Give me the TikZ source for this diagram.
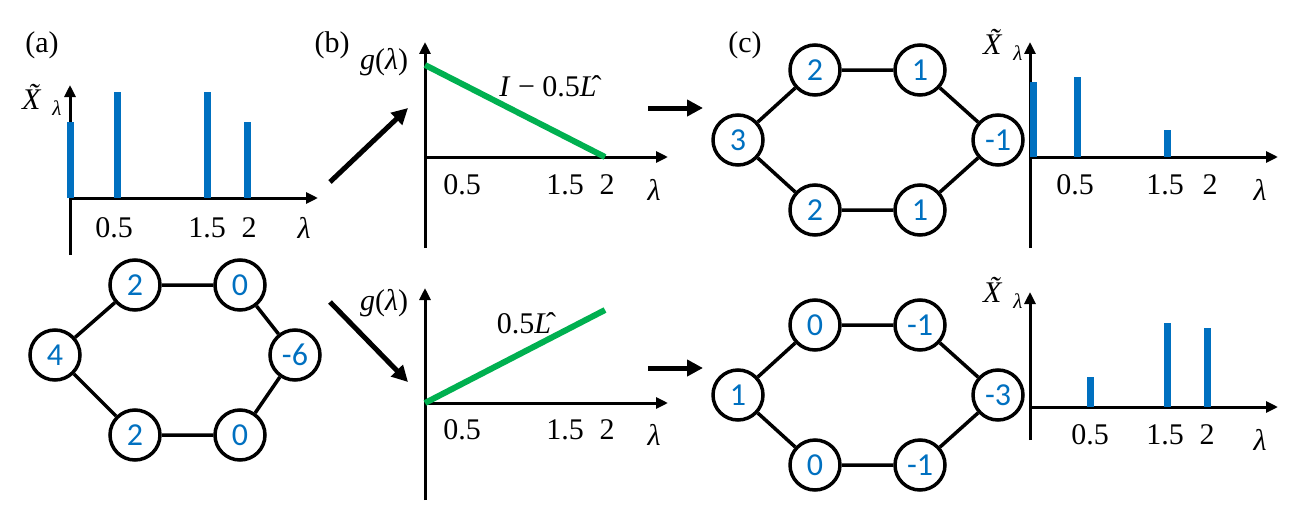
\documentclass[tikz,border=0pt]{standalone}
\usepackage{fontspec}
\setmainfont{Liberation Serif}
\newfontfamily\nodefont{Carlito}
\usetikzlibrary{arrows.meta}
\definecolor{bl}{RGB}{0,112,192}
\definecolor{gr}{RGB}{0,176,80}
\newcommand{\lam}{\textit{λ}}
\newcommand{\Xt}{\textit{\~{X}}\textsubscript{\textit{λ}}}
\begin{document}
\begin{tikzpicture}[x=1pt,y=-1pt,
  ax/.style={line width=3pt,-{Triangle[length=12pt,width=11pt]}},
  bar/.style={line width=7pt,bl},
  gl/.style={line width=6pt,gr},
  big/.style={line width=5pt,-{Triangle[length=16pt,width=16pt]}},
  v/.style={circle,draw,line width=3.5pt,minimum size=50pt,inner sep=0pt,font=\nodefont\fontsize{32}{32}\selectfont,text=bl},
  e/.style={line width=3.5pt},
  t/.style={font=\fontsize{30}{30}\selectfont}]
\useasboundingbox (0,0) rectangle (1300,519);
% (a)
\node[t] (la) at (42,45) {(a)};
\draw[ax] (70,255) -- (70,85);
\draw[ax] (70,198) -- (318,198);
\foreach \x/\y in {70/122,117/92,207/92,247/122} \draw[bar] (\x,198) -- (\x,\y);
\node[t] at (114,228) {0.5};\node[t] at (207,228) {1.5};\node[t] at (249,228) {2};\node[t] at (304,228) {\lam};
\node[t] at (42,100) {\Xt};
\node[v] (a1) at (135,285) {2};\node[v] (a2) at (240,285) {0};
\node[v] (a3) at (55,355) {4};\node[v] (a4) at (295,355) {-6};
\node[v] (a5) at (135,435) {2};\node[v] (a6) at (240,435) {0};
\draw[e] (a1)--(a2) (a1)--(a3) (a2)--(a4) (a3)--(a5) (a4)--(a6) (a5)--(a6);
\coordinate (p1) at (330,182);\coordinate (p2) at (408,108);
\coordinate (p3) at (330,302);\coordinate (p4) at (408,382);
\draw[big] (p1)--(p2);\draw[big] (p3)--(p4);
% (b)
\node[t] (lb) at (332,45) {(b)};
\draw[ax] (425,248) -- (425,42);
\draw[ax] (425,157) -- (668,157);
\draw[gl] (425,65) -- (605,157);
\node[t] at (462,185) {0.5};\node[t] at (565,185) {1.5};\node[t] at (607,185) {2};\node[t] at (654,190) {\lam};
\node[t] at (384,62) {\textit{g}(\lam)};
\node[t] at (548,86) {\textit{I} − 0.5\^{\textit{L}}};
\draw[ax] (425,500) -- (425,288);
\draw[ax] (425,403) -- (668,403);
\draw[gl] (425,403) -- (605,310);
\node[t] at (462,430) {0.5};\node[t] at (565,430) {1.5};\node[t] at (607,430) {2};\node[t] at (654,435) {\lam};
\node[t] at (384,303) {\textit{g}(\lam)};
\node[t] at (524,323) {0.5\^{\textit{L}}};
\coordinate (q1) at (648,108);\coordinate (q2) at (703,108);
\coordinate (q3) at (648,368);\coordinate (q4) at (703,368);
\draw[big] (q1)--(q2);\draw[big] (q3)--(q4);
% (c)
\node[t] (lc) at (745,45) {(c)};
\node[v] (c1) at (815,70) {2};\node[v] (c2) at (920,70) {1};
\node[v] (c3) at (738,140) {3};\node[v] (c4) at (998,140) {-1};
\node[v] (c5) at (815,210) {2};\node[v] (c6) at (920,210) {1};
\draw[e] (c1)--(c2) (c1)--(c3) (c2)--(c4) (c3)--(c5) (c4)--(c6) (c5)--(c6);
\node[v] (d1) at (815,325) {0};\node[v] (d2) at (920,325) {-1};
\node[v] (d3) at (738,395) {1};\node[v] (d4) at (998,395) {-3};
\node[v] (d5) at (815,465) {0};\node[v] (d6) at (920,465) {-1};
\draw[e] (d1)--(d2) (d1)--(d3) (d2)--(d4) (d3)--(d5) (d4)--(d6) (d5)--(d6);
\draw[ax] (1030,248) -- (1030,42);
\draw[ax] (1030,157) -- (1278,157);
\foreach \x/\y in {1033/82,1077/77,1167/130} \draw[bar] (\x,157) -- (\x,\y);
\node[t] at (1075,185) {0.5};\node[t] at (1165,185) {1.5};\node[t] at (1210,185) {2};\node[t] at (1260,190) {\lam};
\node[t] at (1003,45) {\Xt};
\draw[ax] (1030,440) -- (1030,292);
\draw[ax] (1030,407) -- (1278,407);
\foreach \x/\y in {1090/377,1167/323,1207/328} \draw[bar] (\x,407) -- (\x,\y);
\node[t] at (1090,435) {0.5};\node[t] at (1165,435) {1.5};\node[t] at (1207,435) {2};\node[t] at (1260,440) {\lam};
\node[t] at (1003,293) {\Xt};
\end{tikzpicture}
\end{document}
